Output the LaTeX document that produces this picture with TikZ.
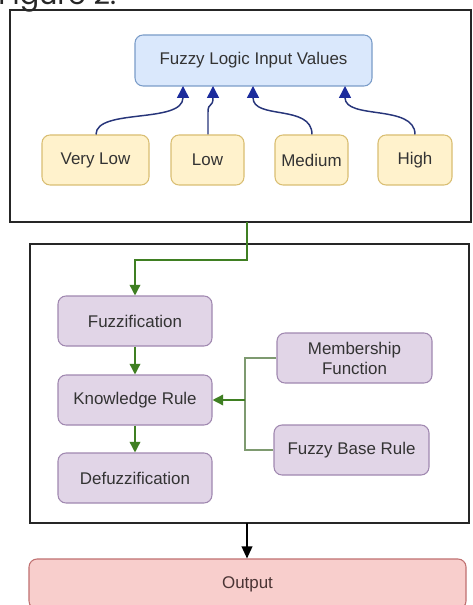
\documentclass[tikz,border=0pt]{standalone}
\usepackage{fontspec}
\setmainfont{Liberation Sans}
\newfontfamily\figfont{Poppins}
\usetikzlibrary{arrows.meta}
\definecolor{blueF}{HTML}{DAE8FC}\definecolor{blueD}{HTML}{7A9CC8}
\definecolor{yelF}{HTML}{FFF2CC}\definecolor{yelD}{HTML}{D9BE72}
\definecolor{purF}{HTML}{E1D5E7}\definecolor{purD}{HTML}{A088B0}
\definecolor{redF}{HTML}{F8CECC}\definecolor{redD}{HTML}{C07070}
\definecolor{navy}{HTML}{27357A}\definecolor{navytip}{HTML}{1C2C9C}
\definecolor{grn}{HTML}{3F7F22}\definecolor{grngray}{HTML}{7E9A70}
\definecolor{txt}{HTML}{333333}\definecolor{outtxt}{HTML}{4A3434}
\tikzset{
  base/.style={draw, rounded corners=6pt, line width=0.8pt, inner sep=0pt, text=txt,
    font=\fontsize{12.7}{15}\selectfont, align=center},
  bluebox/.style={base, fill=blueF, draw=blueD},
  yelbox/.style={base, fill=yelF, draw=yelD},
  purbox/.style={base, fill=purF, draw=purD},
  redbox/.style={base, fill=redF, draw=redD, text=outtxt},
  frame/.style={draw=black!85, line width=1.1pt},
  navyarrow/.style={draw=navy, line width=1.1pt, -{Triangle[width=9pt,length=9pt,color=navytip]}},
  grnarrow/.style={draw=grn, line width=1.1pt, -{Triangle[width=8pt,length=8pt]}},
  grnline/.style={draw=grngray, line width=1.1pt},
  blkarrow/.style={draw=black, line width=1.1pt, -{Triangle[width=8pt,length=9pt]}}
}
% box: style, name, x1, y1, x2, y2, text  (pixel coordinates)
\newcommand\pbox[7]{%
  \pgfmathsetmacro\bw{(#5-#3)*0.75}\pgfmathsetmacro\bh{(#6-#4)*0.75}%
  \node[#1, minimum width=\bw pt, minimum height=\bh pt] (#2) at ({(#3+#5)/2},{(#4+#6)/2}) {#7};}
\begin{document}
\begin{tikzpicture}[x=0.75pt,y=-0.75pt]
\useasboundingbox (0,0) rectangle (472,605);
\clip (0,0) rectangle (472,605);
\fill[white] (0,0) rectangle (472,605);

\node[anchor=base west, inner sep=0pt, text=black!85] (fig) at (-2,5) {\figfont\fontsize{21.5}{22}\selectfont Figure 2.};

% frames
\pbox{frame}{top}{10}{10}{471}{222}{}
\pbox{frame}{mid}{30}{244}{469}{523}{}

% top section
\pbox{bluebox}{fiv}{135}{35}{372}{86}{Fuzzy Logic Input Values}
\pbox{yelbox}{vl}{42}{135}{149}{185}{Very Low}
\pbox{yelbox}{lo}{171}{135}{244}{185}{Low}
\pbox{yelbox}{me}{275}{135}{348}{185}{Medium}
\pbox{yelbox}{hi}{378}{135}{452}{185}{High}

\coordinate (t1) at (183,86);
\coordinate (t2) at (213,86);
\coordinate (t3) at (253,86);
\coordinate (t4) at (345,86);
\draw[navyarrow] (vl.north -| 96,0) .. controls (96,108) and (183,124) .. (t1);
\draw[navyarrow] (lo.north -| 208,0) -- (208,112) .. controls (208,102) and (213,108) .. (t2);
\draw[navyarrow] (me.north -| 312,0) .. controls (312,104) and (253,120) .. (t3);
\draw[navyarrow] (hi.north -| 415,0) .. controls (415,104) and (345,120) .. (t4);

% middle section
\pbox{purbox}{fz}{58}{296}{212}{346}{Fuzzification}
\pbox{purbox}{kr}{58}{375}{212}{425}{Knowledge Rule}
\pbox{purbox}{dz}{58}{453}{212}{503}{Defuzzification}
\pbox{purbox}{mf}{277}{333}{432}{383}{Membership\\Function}
\pbox{purbox}{fb}{274}{425}{429}{475}{Fuzzy Base Rule}

\coordinate (g0) at (247,222);
\draw[grnarrow] (g0) -- (247,260) -- (135,260) -- (fz.north -| 135,0);
\draw[grnarrow] (fz.south -| 135,0) -- (kr.north -| 135,0);
\draw[grnarrow] (kr.south -| 135,0) -- (dz.north -| 135,0);
\coordinate (j) at (245,400);
\draw[grnline] (mf.west) -- (245,358) -- (j);
\draw[grnline] (fb.west) -- (245,450) -- (j);
\draw[grnarrow] (j) -- (kr.east);

% output
\pbox{redbox}{out}{29}{559}{466}{609}{Output}
\coordinate (b0) at (247,523);
\draw[blkarrow] (b0) -- (out.north -| 247,0);
\end{tikzpicture}
\end{document}
